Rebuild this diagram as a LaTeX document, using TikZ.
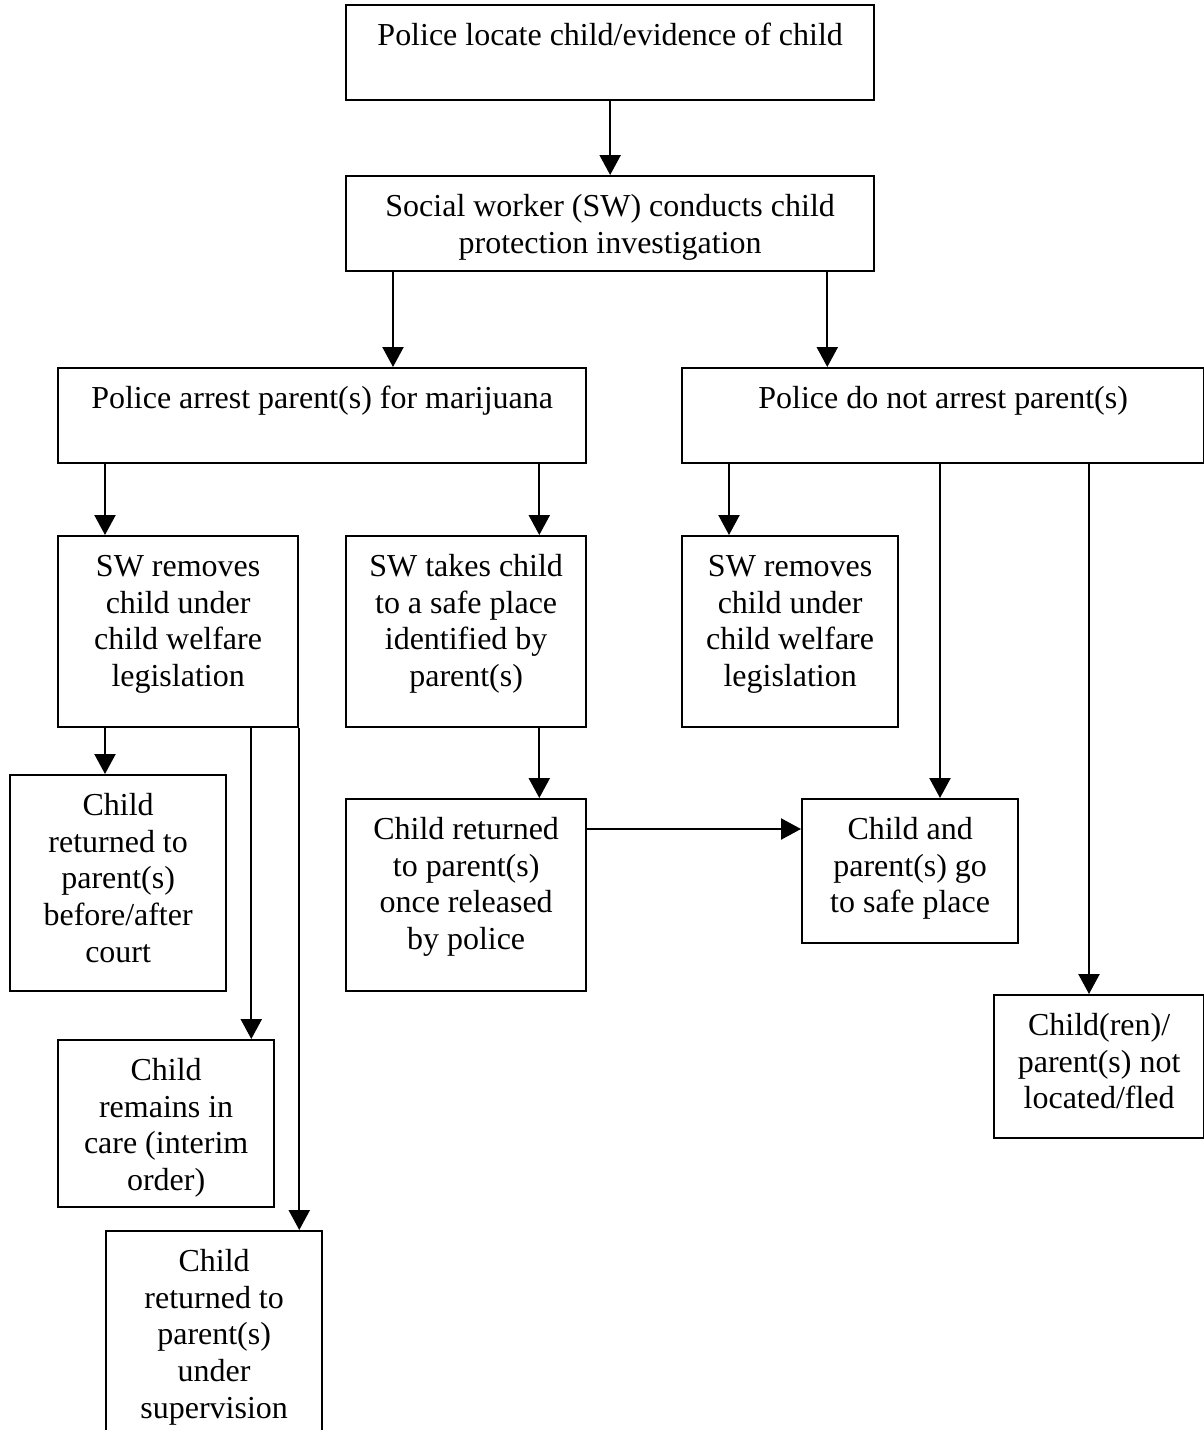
\documentclass[tikz,border=0pt]{standalone}
\usepackage{fontspec}
\setmainfont{Liberation Serif}
\usetikzlibrary{arrows.meta}
\newcommand{\flowtext}[3]{\parbox[c][#2][t]{#1}{\centering\rule{0pt}{0.8cm}#3}}
\tikzset{
	flowbox/.style={draw, line width=1.3pt, inner sep=0pt, anchor=north west, font=\fontsize{18.2}{21}\selectfont},
	flowarrow/.style={line width=1.3pt, -{Triangle[length=0.4cm,width=0.42cm]}}
}
\begin{document}
\begin{tikzpicture}
		\useasboundingbox (0,0) rectangle (24.08,-28.60);
		% investigation nodes
		\node[flowbox] (locate) at (6.90, -0.08) {\flowtext{10.56cm}{1.90cm}{Police locate child/evidence of child}};
		\node[flowbox] (sw) at (6.90, -3.50) {\flowtext{10.56cm}{1.90cm}{Social worker (SW) conducts child\\protection investigation}};
		\node[flowbox] (arrest) at (1.14, -7.34) {\flowtext{10.56cm}{1.90cm}{Police arrest parent(s) for marijuana}};
		\node[flowbox] (noarrest) at (13.62, -7.34) {\flowtext{10.44cm}{1.90cm}{Police do not arrest parent(s)}};
		% second level nodes
		\node[flowbox] (removeL) at (1.14, -10.70) {\flowtext{4.80cm}{3.82cm}{SW removes\\child under\\child welfare\\legislation}};
		\node[flowbox] (takes) at (6.90, -10.70) {\flowtext{4.80cm}{3.82cm}{SW takes child\\to a safe place\\identified by\\parent(s)}};
		\node[flowbox] (removeR) at (13.62, -10.70) {\flowtext{4.32cm}{3.82cm}{SW removes\\child under\\child welfare\\legislation}};
		% outcome nodes
		\node[flowbox] (court) at (0.18, -15.48) {\flowtext{4.32cm}{4.32cm}{Child\\returned to\\parent(s)\\before/after\\court}};
		\node[flowbox] (released) at (6.90, -15.96) {\flowtext{4.80cm}{3.84cm}{Child returned\\to parent(s)\\once released\\by police}};
		\node[flowbox] (safe) at (16.02, -15.96) {\flowtext{4.32cm}{2.88cm}{Child and\\parent(s) go\\to safe place}};
		\node[flowbox] (fled) at (19.86, -19.88) {\flowtext{4.20cm}{2.86cm}{Child(ren)/\\parent(s) not\\located/fled}};
		\node[flowbox] (care) at (1.14, -20.78) {\flowtext{4.32cm}{3.34cm}{Child\\remains in\\care (interim\\order)}};
		\node[flowbox] (supervision) at (2.10, -24.60) {\flowtext{4.32cm}{4.30cm}{Child\\returned to\\parent(s)\\under\\supervision}};
		% connections
		\draw[flowarrow] (locate.south) -- (sw.north);
		\draw[flowarrow] ([xshift=0.96cm]sw.south west) -- ([xshift=0.96cm]sw.south west |- arrest.north);
		\draw[flowarrow] ([xshift=-0.96cm]sw.south east) -- ([xshift=-0.96cm]sw.south east |- noarrest.north);
		\draw[flowarrow] ([xshift=0.96cm]arrest.south west) -- ([xshift=0.96cm]arrest.south west |- removeL.north);
		\draw[flowarrow] ([xshift=-0.96cm]arrest.south east) -- ([xshift=-0.96cm]arrest.south east |- takes.north);
		\draw[flowarrow] ([xshift=0.96cm]noarrest.south west) -- ([xshift=0.96cm]noarrest.south west |- removeR.north);
		\draw[flowarrow] ([xshift=5.18cm]noarrest.south west) -- ([xshift=5.18cm]noarrest.south west |- safe.north);
		\draw[flowarrow] ([xshift=8.16cm]noarrest.south west) -- ([xshift=8.16cm]noarrest.south west |- fled.north);
		\draw[flowarrow] ([xshift=0.96cm]removeL.south west) -- ([xshift=0.96cm]removeL.south west |- court.north);
		\draw[flowarrow] ([xshift=-0.96cm]removeL.south east) -- ([xshift=-0.96cm]removeL.south east |- care.north);
		\draw[flowarrow] (removeL.south east) -- (removeL.south east |- supervision.north);
		\draw[flowarrow] ([xshift=-0.96cm]takes.south east) -- ([xshift=-0.96cm]takes.south east |- released.north);
		\draw[flowarrow] ([yshift=-0.62cm]released.north east) -- ([yshift=-0.62cm]released.north east -| safe.west);
	\end{tikzpicture}
\end{document}
